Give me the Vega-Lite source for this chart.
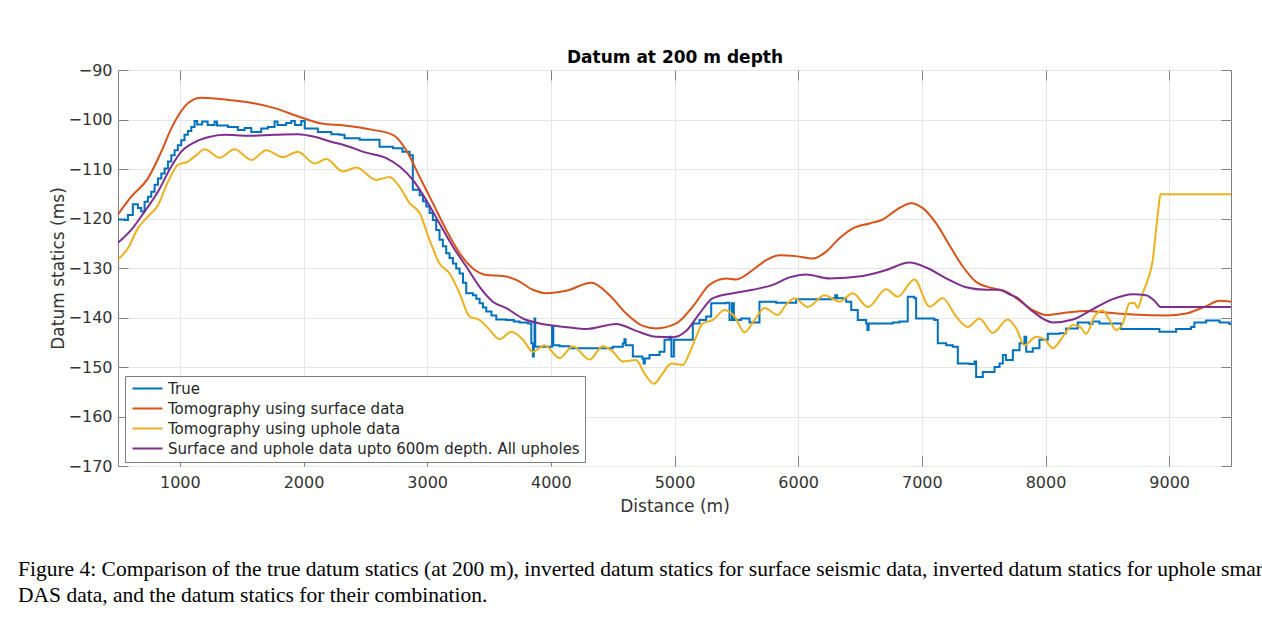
{
  "$schema": "https://vega.github.io/schema/vega-lite/v6.json",
  "width": 1113,
  "height": 396,
  "autosize": {"type": "none"},
  "padding": {"left": 118, "top": 70, "right": 31, "bottom": 171},
  "background": "white",
  "title": {
    "text": ["Figure 4: Comparison of the true datum statics (at 200 m), inverted datum statics for surface seismic data, inverted datum statics for uphole smar", "DAS data, and the datum statics for their combination."],
    "orient": "bottom",
    "anchor": "start",
    "frame": "group",
    "dx": -100,
    "offset": 45,
    "font": "Liberation Serif",
    "fontSize": 21.5,
    "fontWeight": "normal",
    "color": "black",
    "lineHeight": 26
  },
  "config": {
    "font": "DejaVu Sans",
    "view": {"stroke": "#7f7f7f", "strokeWidth": 1}
  },
  "datasets": {
    "truth": [
      {"series": "True", "d": 500, "v": -120.2}, {"series": "True", "d": 553, "v": -120.3}, {"series": "True", "d": 580, "v": -119.3}, {"series": "True", "d": 620, "v": -117.1}, {"series": "True", "d": 661, "v": -117.9}, {"series": "True", "d": 688, "v": -118.6}, {"series": "True", "d": 715, "v": -116.6}, {"series": "True", "d": 742, "v": -115.6}, {"series": "True", "d": 769, "v": -114.6}, {"series": "True", "d": 796, "v": -113.2}, {"series": "True", "d": 823, "v": -111.9}, {"series": "True", "d": 850, "v": -110.9}, {"series": "True", "d": 877, "v": -109.9}, {"series": "True", "d": 904, "v": -108.5}, {"series": "True", "d": 931, "v": -107.2}, {"series": "True", "d": 958, "v": -106.2}, {"series": "True", "d": 984, "v": -105.2}, {"series": "True", "d": 1011, "v": -104.2}, {"series": "True", "d": 1038, "v": -103.1}, {"series": "True", "d": 1065, "v": -102.3}, {"series": "True", "d": 1093, "v": -101.5}, {"series": "True", "d": 1119, "v": -100.3}, {"series": "True", "d": 1140, "v": -101.0}, {"series": "True", "d": 1180, "v": -100.4}, {"series": "True", "d": 1225, "v": -101.1}, {"series": "True", "d": 1281, "v": -100.4}, {"series": "True", "d": 1300, "v": -101.2}, {"series": "True", "d": 1389, "v": -101.5}, {"series": "True", "d": 1469, "v": -102.1}, {"series": "True", "d": 1524, "v": -101.7}, {"series": "True", "d": 1578, "v": -102.5}, {"series": "True", "d": 1658, "v": -101.8}, {"series": "True", "d": 1712, "v": -101.5}, {"series": "True", "d": 1766, "v": -100.4}, {"series": "True", "d": 1790, "v": -101.1}, {"series": "True", "d": 1860, "v": -100.7}, {"series": "True", "d": 1901, "v": -100.3}, {"series": "True", "d": 1930, "v": -101.1}, {"series": "True", "d": 1982, "v": -100.3}, {"series": "True", "d": 2010, "v": -101.8}, {"series": "True", "d": 2116, "v": -102.5}, {"series": "True", "d": 2225, "v": -103.0}, {"series": "True", "d": 2292, "v": -103.1}, {"series": "True", "d": 2332, "v": -103.8}, {"series": "True", "d": 2454, "v": -104.1}, {"series": "True", "d": 2615, "v": -105.5}, {"series": "True", "d": 2723, "v": -105.8}, {"series": "True", "d": 2800, "v": -106.5}, {"series": "True", "d": 2858, "v": -107.2}, {"series": "True", "d": 2884, "v": -114.2}, {"series": "True", "d": 2939, "v": -115.3}, {"series": "True", "d": 2966, "v": -116.5}, {"series": "True", "d": 2993, "v": -117.6}, {"series": "True", "d": 3020, "v": -118.9}, {"series": "True", "d": 3046, "v": -120.3}, {"series": "True", "d": 3073, "v": -122.3}, {"series": "True", "d": 3100, "v": -124.3}, {"series": "True", "d": 3127, "v": -125.6}, {"series": "True", "d": 3154, "v": -127.0}, {"series": "True", "d": 3181, "v": -128.0}, {"series": "True", "d": 3208, "v": -129.1}, {"series": "True", "d": 3235, "v": -130.1}, {"series": "True", "d": 3262, "v": -131.1}, {"series": "True", "d": 3290, "v": -133.0}, {"series": "True", "d": 3316, "v": -135.1}, {"series": "True", "d": 3370, "v": -135.5}, {"series": "True", "d": 3397, "v": -136.2}, {"series": "True", "d": 3424, "v": -137.1}, {"series": "True", "d": 3451, "v": -138.0}, {"series": "True", "d": 3478, "v": -138.8}, {"series": "True", "d": 3520, "v": -139.6}, {"series": "True", "d": 3559, "v": -140.4}, {"series": "True", "d": 3639, "v": -140.5}, {"series": "True", "d": 3700, "v": -140.8}, {"series": "True", "d": 3747, "v": -141.0}, {"series": "True", "d": 3814, "v": -141.2}, {"series": "True", "d": 3842, "v": -145.2}, {"series": "True", "d": 3855, "v": -147.9}, {"series": "True", "d": 3862, "v": -145.5}, {"series": "True", "d": 3868, "v": -140.2}, {"series": "True", "d": 3874, "v": -145.9}, {"series": "True", "d": 4003, "v": -145.9}, {"series": "True", "d": 4010, "v": -141.9}, {"series": "True", "d": 4020, "v": -145.6}, {"series": "True", "d": 4071, "v": -145.8}, {"series": "True", "d": 4151, "v": -146.2}, {"series": "True", "d": 4501, "v": -145.9}, {"series": "True", "d": 4582, "v": -145.2}, {"series": "True", "d": 4595, "v": -144.4}, {"series": "True", "d": 4605, "v": -145.6}, {"series": "True", "d": 4663, "v": -147.9}, {"series": "True", "d": 4740, "v": -148.3}, {"series": "True", "d": 4750, "v": -149.3}, {"series": "True", "d": 4760, "v": -148.3}, {"series": "True", "d": 4798, "v": -147.6}, {"series": "True", "d": 4879, "v": -146.9}, {"series": "True", "d": 4919, "v": -144.5}, {"series": "True", "d": 4960, "v": -143.9}, {"series": "True", "d": 4975, "v": -147.9}, {"series": "True", "d": 4995, "v": -144.5}, {"series": "True", "d": 5148, "v": -141.2}, {"series": "True", "d": 5202, "v": -140.5}, {"series": "True", "d": 5256, "v": -139.8}, {"series": "True", "d": 5297, "v": -137.1}, {"series": "True", "d": 5418, "v": -137.0}, {"series": "True", "d": 5445, "v": -140.5}, {"series": "True", "d": 5465, "v": -137.1}, {"series": "True", "d": 5480, "v": -140.5}, {"series": "True", "d": 5539, "v": -140.2}, {"series": "True", "d": 5606, "v": -141.0}, {"series": "True", "d": 5687, "v": -136.8}, {"series": "True", "d": 5822, "v": -137.0}, {"series": "True", "d": 5984, "v": -136.3}, {"series": "True", "d": 6280, "v": -136.1}, {"series": "True", "d": 6300, "v": -135.5}, {"series": "True", "d": 6315, "v": -136.1}, {"series": "True", "d": 6388, "v": -136.8}, {"series": "True", "d": 6429, "v": -138.5}, {"series": "True", "d": 6482, "v": -140.5}, {"series": "True", "d": 6550, "v": -141.2}, {"series": "True", "d": 6560, "v": -142.5}, {"series": "True", "d": 6570, "v": -141.2}, {"series": "True", "d": 6765, "v": -141.0}, {"series": "True", "d": 6819, "v": -140.8}, {"series": "True", "d": 6886, "v": -135.8}, {"series": "True", "d": 6940, "v": -136.1}, {"series": "True", "d": 6954, "v": -140.2}, {"series": "True", "d": 7102, "v": -140.5}, {"series": "True", "d": 7129, "v": -145.2}, {"series": "True", "d": 7197, "v": -145.6}, {"series": "True", "d": 7250, "v": -145.9}, {"series": "True", "d": 7291, "v": -149.3}, {"series": "True", "d": 7385, "v": -149.4}, {"series": "True", "d": 7426, "v": -148.9}, {"series": "True", "d": 7439, "v": -152.0}, {"series": "True", "d": 7493, "v": -151.0}, {"series": "True", "d": 7588, "v": -150.0}, {"series": "True", "d": 7628, "v": -149.3}, {"series": "True", "d": 7655, "v": -147.6}, {"series": "True", "d": 7680, "v": -148.6}, {"series": "True", "d": 7736, "v": -146.6}, {"series": "True", "d": 7790, "v": -145.2}, {"series": "True", "d": 7830, "v": -143.9}, {"series": "True", "d": 7844, "v": -146.9}, {"series": "True", "d": 7897, "v": -146.2}, {"series": "True", "d": 7951, "v": -144.5}, {"series": "True", "d": 8019, "v": -143.3}, {"series": "True", "d": 8113, "v": -143.2}, {"series": "True", "d": 8167, "v": -142.2}, {"series": "True", "d": 8261, "v": -141.0}, {"series": "True", "d": 8355, "v": -141.3}, {"series": "True", "d": 8380, "v": -140.8}, {"series": "True", "d": 8436, "v": -141.2}, {"series": "True", "d": 8611, "v": -142.3}, {"series": "True", "d": 8921, "v": -142.9}, {"series": "True", "d": 9056, "v": -142.3}, {"series": "True", "d": 9177, "v": -141.9}, {"series": "True", "d": 9204, "v": -141.0}, {"series": "True", "d": 9299, "v": -140.6}, {"series": "True", "d": 9407, "v": -141.0}, {"series": "True", "d": 9488, "v": -141.3}, {"series": "True", "d": 9500, "v": -141.3}
    ],
    "models": [
      {"series": "Tomography using surface data", "d": 500, "v": -119.2}, {"series": "Tomography using surface data", "d": 607, "v": -115.6}, {"series": "Tomography using surface data", "d": 742, "v": -111.9}, {"series": "Tomography using surface data", "d": 850, "v": -106.5}, {"series": "Tomography using surface data", "d": 931, "v": -101.8}, {"series": "Tomography using surface data", "d": 998, "v": -98.8}, {"series": "Tomography using surface data", "d": 1065, "v": -96.7}, {"series": "Tomography using surface data", "d": 1173, "v": -95.6}, {"series": "Tomography using surface data", "d": 1416, "v": -96.1}, {"series": "Tomography using surface data", "d": 1550, "v": -96.5}, {"series": "Tomography using surface data", "d": 1766, "v": -97.7}, {"series": "Tomography using surface data", "d": 1982, "v": -99.6}, {"series": "Tomography using surface data", "d": 2144, "v": -100.8}, {"series": "Tomography using surface data", "d": 2332, "v": -101.2}, {"series": "Tomography using surface data", "d": 2561, "v": -102.1}, {"series": "Tomography using surface data", "d": 2723, "v": -103.1}, {"series": "Tomography using surface data", "d": 2831, "v": -106.2}, {"series": "Tomography using surface data", "d": 2939, "v": -111.6}, {"series": "Tomography using surface data", "d": 3046, "v": -116.9}, {"series": "Tomography using surface data", "d": 3154, "v": -122.3}, {"series": "Tomography using surface data", "d": 3262, "v": -127.0}, {"series": "Tomography using surface data", "d": 3370, "v": -130.1}, {"series": "Tomography using surface data", "d": 3478, "v": -131.4}, {"series": "Tomography using surface data", "d": 3612, "v": -131.6}, {"series": "Tomography using surface data", "d": 3720, "v": -132.4}, {"series": "Tomography using surface data", "d": 3855, "v": -134.4}, {"series": "Tomography using surface data", "d": 3963, "v": -135.1}, {"series": "Tomography using surface data", "d": 4125, "v": -134.6}, {"series": "Tomography using surface data", "d": 4327, "v": -133.0}, {"series": "Tomography using surface data", "d": 4475, "v": -135.5}, {"series": "Tomography using surface data", "d": 4610, "v": -139.2}, {"series": "Tomography using surface data", "d": 4744, "v": -141.7}, {"series": "Tomography using surface data", "d": 4852, "v": -142.2}, {"series": "Tomography using surface data", "d": 5014, "v": -141.2}, {"series": "Tomography using surface data", "d": 5148, "v": -137.8}, {"series": "Tomography using surface data", "d": 5283, "v": -133.4}, {"series": "Tomography using surface data", "d": 5418, "v": -132.1}, {"series": "Tomography using surface data", "d": 5499, "v": -132.3}, {"series": "Tomography using surface data", "d": 5633, "v": -130.4}, {"series": "Tomography using surface data", "d": 5741, "v": -128.4}, {"series": "Tomography using surface data", "d": 5849, "v": -127.4}, {"series": "Tomography using surface data", "d": 5984, "v": -127.6}, {"series": "Tomography using surface data", "d": 6118, "v": -128.1}, {"series": "Tomography using surface data", "d": 6226, "v": -126.7}, {"series": "Tomography using surface data", "d": 6334, "v": -124.0}, {"series": "Tomography using surface data", "d": 6442, "v": -122.0}, {"series": "Tomography using surface data", "d": 6577, "v": -121.0}, {"series": "Tomography using surface data", "d": 6684, "v": -120.2}, {"series": "Tomography using surface data", "d": 6792, "v": -118.3}, {"series": "Tomography using surface data", "d": 6914, "v": -116.9}, {"series": "Tomography using surface data", "d": 7008, "v": -117.9}, {"series": "Tomography using surface data", "d": 7116, "v": -121.0}, {"series": "Tomography using surface data", "d": 7223, "v": -125.4}, {"series": "Tomography using surface data", "d": 7331, "v": -129.7}, {"series": "Tomography using surface data", "d": 7439, "v": -132.8}, {"series": "Tomography using surface data", "d": 7574, "v": -134.1}, {"series": "Tomography using surface data", "d": 7680, "v": -134.8}, {"series": "Tomography using surface data", "d": 7763, "v": -136.1}, {"series": "Tomography using surface data", "d": 7897, "v": -138.5}, {"series": "Tomography using surface data", "d": 8005, "v": -139.5}, {"series": "Tomography using surface data", "d": 8167, "v": -139.0}, {"series": "Tomography using surface data", "d": 8329, "v": -138.7}, {"series": "Tomography using surface data", "d": 8490, "v": -139.0}, {"series": "Tomography using surface data", "d": 8706, "v": -139.4}, {"series": "Tomography using surface data", "d": 8976, "v": -139.6}, {"series": "Tomography using surface data", "d": 9137, "v": -139.2}, {"series": "Tomography using surface data", "d": 9299, "v": -137.7}, {"series": "Tomography using surface data", "d": 9407, "v": -136.6}, {"series": "Tomography using surface data", "d": 9500, "v": -136.8},
      {"series": "Tomography using uphole data", "d": 500, "v": -128.3}, {"series": "Tomography using uphole data", "d": 580, "v": -126.0}, {"series": "Tomography using uphole data", "d": 661, "v": -122.0}, {"series": "Tomography using uphole data", "d": 742, "v": -119.6}, {"series": "Tomography using uphole data", "d": 823, "v": -117.3}, {"series": "Tomography using uphole data", "d": 904, "v": -112.6}, {"series": "Tomography using uphole data", "d": 984, "v": -109.2}, {"series": "Tomography using uphole data", "d": 1065, "v": -108.5}, {"series": "Tomography using uphole data", "d": 1133, "v": -107.2}, {"series": "Tomography using uphole data", "d": 1200, "v": -106.0}, {"series": "Tomography using uphole data", "d": 1322, "v": -107.7}, {"series": "Tomography using uphole data", "d": 1443, "v": -106.0}, {"series": "Tomography using uphole data", "d": 1578, "v": -108.2}, {"series": "Tomography using uphole data", "d": 1699, "v": -106.2}, {"series": "Tomography using uphole data", "d": 1833, "v": -107.6}, {"series": "Tomography using uphole data", "d": 1955, "v": -106.5}, {"series": "Tomography using uphole data", "d": 2090, "v": -108.9}, {"series": "Tomography using uphole data", "d": 2184, "v": -108.0}, {"series": "Tomography using uphole data", "d": 2318, "v": -110.5}, {"series": "Tomography using uphole data", "d": 2427, "v": -109.7}, {"series": "Tomography using uphole data", "d": 2588, "v": -112.2}, {"series": "Tomography using uphole data", "d": 2696, "v": -111.6}, {"series": "Tomography using uphole data", "d": 2777, "v": -113.6}, {"series": "Tomography using uphole data", "d": 2858, "v": -116.9}, {"series": "Tomography using uphole data", "d": 2939, "v": -118.9}, {"series": "Tomography using uphole data", "d": 3019, "v": -124.3}, {"series": "Tomography using uphole data", "d": 3100, "v": -129.1}, {"series": "Tomography using uphole data", "d": 3181, "v": -131.1}, {"series": "Tomography using uphole data", "d": 3262, "v": -135.1}, {"series": "Tomography using uphole data", "d": 3343, "v": -139.8}, {"series": "Tomography using uphole data", "d": 3424, "v": -140.5}, {"series": "Tomography using uphole data", "d": 3505, "v": -142.5}, {"series": "Tomography using uphole data", "d": 3585, "v": -144.4}, {"series": "Tomography using uphole data", "d": 3680, "v": -142.9}, {"series": "Tomography using uphole data", "d": 3774, "v": -144.5}, {"series": "Tomography using uphole data", "d": 3855, "v": -146.9}, {"series": "Tomography using uphole data", "d": 3949, "v": -145.6}, {"series": "Tomography using uphole data", "d": 4071, "v": -148.2}, {"series": "Tomography using uphole data", "d": 4178, "v": -145.8}, {"series": "Tomography using uphole data", "d": 4313, "v": -148.5}, {"series": "Tomography using uphole data", "d": 4420, "v": -145.8}, {"series": "Tomography using uphole data", "d": 4501, "v": -146.9}, {"series": "Tomography using uphole data", "d": 4582, "v": -148.9}, {"series": "Tomography using uphole data", "d": 4690, "v": -148.6}, {"series": "Tomography using uphole data", "d": 4757, "v": -151.3}, {"series": "Tomography using uphole data", "d": 4833, "v": -153.4}, {"series": "Tomography using uphole data", "d": 4905, "v": -151.3}, {"series": "Tomography using uphole data", "d": 4973, "v": -149.3}, {"series": "Tomography using uphole data", "d": 5067, "v": -149.6}, {"series": "Tomography using uphole data", "d": 5121, "v": -147.2}, {"series": "Tomography using uphole data", "d": 5175, "v": -143.9}, {"series": "Tomography using uphole data", "d": 5229, "v": -141.2}, {"series": "Tomography using uphole data", "d": 5310, "v": -140.5}, {"series": "Tomography using uphole data", "d": 5404, "v": -138.5}, {"series": "Tomography using uphole data", "d": 5485, "v": -139.8}, {"series": "Tomography using uphole data", "d": 5566, "v": -143.0}, {"series": "Tomography using uphole data", "d": 5647, "v": -140.5}, {"series": "Tomography using uphole data", "d": 5728, "v": -138.1}, {"series": "Tomography using uphole data", "d": 5835, "v": -139.5}, {"series": "Tomography using uphole data", "d": 5900, "v": -137.5}, {"series": "Tomography using uphole data", "d": 5971, "v": -136.1}, {"series": "Tomography using uphole data", "d": 6078, "v": -137.9}, {"series": "Tomography using uphole data", "d": 6213, "v": -135.5}, {"series": "Tomography using uphole data", "d": 6334, "v": -136.8}, {"series": "Tomography using uphole data", "d": 6442, "v": -135.1}, {"series": "Tomography using uphole data", "d": 6563, "v": -137.9}, {"series": "Tomography using uphole data", "d": 6712, "v": -134.3}, {"series": "Tomography using uphole data", "d": 6805, "v": -135.8}, {"series": "Tomography using uphole data", "d": 6940, "v": -132.3}, {"series": "Tomography using uphole data", "d": 7062, "v": -137.8}, {"series": "Tomography using uphole data", "d": 7169, "v": -136.1}, {"series": "Tomography using uphole data", "d": 7277, "v": -139.8}, {"series": "Tomography using uphole data", "d": 7371, "v": -141.9}, {"series": "Tomography using uphole data", "d": 7466, "v": -140.2}, {"series": "Tomography using uphole data", "d": 7574, "v": -143.1}, {"series": "Tomography using uphole data", "d": 7695, "v": -140.4}, {"series": "Tomography using uphole data", "d": 7763, "v": -142.2}, {"series": "Tomography using uphole data", "d": 7830, "v": -145.6}, {"series": "Tomography using uphole data", "d": 7925, "v": -143.9}, {"series": "Tomography using uphole data", "d": 7992, "v": -144.4}, {"series": "Tomography using uphole data", "d": 8059, "v": -146.2}, {"series": "Tomography using uphole data", "d": 8140, "v": -143.9}, {"series": "Tomography using uphole data", "d": 8221, "v": -141.5}, {"series": "Tomography using uphole data", "d": 8275, "v": -141.8}, {"series": "Tomography using uphole data", "d": 8329, "v": -143.3}, {"series": "Tomography using uphole data", "d": 8396, "v": -139.8}, {"series": "Tomography using uphole data", "d": 8463, "v": -138.6}, {"series": "Tomography using uphole data", "d": 8517, "v": -140.5}, {"series": "Tomography using uphole data", "d": 8571, "v": -142.5}, {"series": "Tomography using uphole data", "d": 8625, "v": -141.2}, {"series": "Tomography using uphole data", "d": 8679, "v": -137.1}, {"series": "Tomography using uphole data", "d": 8719, "v": -137.0}, {"series": "Tomography using uphole data", "d": 8746, "v": -138.1}, {"series": "Tomography using uphole data", "d": 8786, "v": -135.1}, {"series": "Tomography using uphole data", "d": 8827, "v": -132.4}, {"series": "Tomography using uphole data", "d": 8867, "v": -128.4}, {"series": "Tomography using uphole data", "d": 8894, "v": -122.3}, {"series": "Tomography using uphole data", "d": 8915, "v": -117.6}, {"series": "Tomography using uphole data", "d": 8929, "v": -115.1}, {"series": "Tomography using uphole data", "d": 9500, "v": -115.1},
      {"series": "Surface and uphole data upto 600m depth. All upholes", "d": 500, "v": -124.9}, {"series": "Surface and uphole data upto 600m depth. All upholes", "d": 607, "v": -122.3}, {"series": "Surface and uphole data upto 600m depth. All upholes", "d": 715, "v": -118.6}, {"series": "Surface and uphole data upto 600m depth. All upholes", "d": 823, "v": -114.6}, {"series": "Surface and uphole data upto 600m depth. All upholes", "d": 931, "v": -109.5}, {"series": "Surface and uphole data upto 600m depth. All upholes", "d": 1012, "v": -106.5}, {"series": "Surface and uphole data upto 600m depth. All upholes", "d": 1119, "v": -104.6}, {"series": "Surface and uphole data upto 600m depth. All upholes", "d": 1227, "v": -103.6}, {"series": "Surface and uphole data upto 600m depth. All upholes", "d": 1362, "v": -103.1}, {"series": "Surface and uphole data upto 600m depth. All upholes", "d": 1550, "v": -103.3}, {"series": "Surface and uphole data upto 600m depth. All upholes", "d": 1766, "v": -103.1}, {"series": "Surface and uphole data upto 600m depth. All upholes", "d": 1955, "v": -103.0}, {"series": "Surface and uphole data upto 600m depth. All upholes", "d": 2090, "v": -103.5}, {"series": "Surface and uphole data upto 600m depth. All upholes", "d": 2225, "v": -104.5}, {"series": "Surface and uphole data upto 600m depth. All upholes", "d": 2332, "v": -105.2}, {"series": "Surface and uphole data upto 600m depth. All upholes", "d": 2507, "v": -106.7}, {"series": "Surface and uphole data upto 600m depth. All upholes", "d": 2669, "v": -107.8}, {"series": "Surface and uphole data upto 600m depth. All upholes", "d": 2777, "v": -109.5}, {"series": "Surface and uphole data upto 600m depth. All upholes", "d": 2884, "v": -112.2}, {"series": "Surface and uphole data upto 600m depth. All upholes", "d": 2993, "v": -116.3}, {"series": "Surface and uphole data upto 600m depth. All upholes", "d": 3100, "v": -121.0}, {"series": "Surface and uphole data upto 600m depth. All upholes", "d": 3208, "v": -125.7}, {"series": "Surface and uphole data upto 600m depth. All upholes", "d": 3316, "v": -129.7}, {"series": "Surface and uphole data upto 600m depth. All upholes", "d": 3424, "v": -133.8}, {"series": "Surface and uphole data upto 600m depth. All upholes", "d": 3531, "v": -136.8}, {"series": "Surface and uphole data upto 600m depth. All upholes", "d": 3639, "v": -138.1}, {"series": "Surface and uphole data upto 600m depth. All upholes", "d": 3774, "v": -140.2}, {"series": "Surface and uphole data upto 600m depth. All upholes", "d": 3909, "v": -141.2}, {"series": "Surface and uphole data upto 600m depth. All upholes", "d": 4044, "v": -141.7}, {"series": "Surface and uphole data upto 600m depth. All upholes", "d": 4151, "v": -142.0}, {"series": "Surface and uphole data upto 600m depth. All upholes", "d": 4286, "v": -142.3}, {"series": "Surface and uphole data upto 600m depth. All upholes", "d": 4529, "v": -141.3}, {"series": "Surface and uphole data upto 600m depth. All upholes", "d": 4690, "v": -142.7}, {"series": "Surface and uphole data upto 600m depth. All upholes", "d": 4852, "v": -143.9}, {"series": "Surface and uphole data upto 600m depth. All upholes", "d": 4987, "v": -144.0}, {"series": "Surface and uphole data upto 600m depth. All upholes", "d": 5095, "v": -142.7}, {"series": "Surface and uphole data upto 600m depth. All upholes", "d": 5202, "v": -139.2}, {"series": "Surface and uphole data upto 600m depth. All upholes", "d": 5310, "v": -136.1}, {"series": "Surface and uphole data upto 600m depth. All upholes", "d": 5472, "v": -135.1}, {"series": "Surface and uphole data upto 600m depth. All upholes", "d": 5633, "v": -134.4}, {"series": "Surface and uphole data upto 600m depth. All upholes", "d": 5795, "v": -133.4}, {"series": "Surface and uphole data upto 600m depth. All upholes", "d": 5930, "v": -131.9}, {"series": "Surface and uphole data upto 600m depth. All upholes", "d": 6065, "v": -131.3}, {"series": "Surface and uphole data upto 600m depth. All upholes", "d": 6253, "v": -132.1}, {"series": "Surface and uphole data upto 600m depth. All upholes", "d": 6522, "v": -131.6}, {"series": "Surface and uphole data upto 600m depth. All upholes", "d": 6712, "v": -130.4}, {"series": "Surface and uphole data upto 600m depth. All upholes", "d": 6900, "v": -128.9}, {"series": "Surface and uphole data upto 600m depth. All upholes", "d": 7035, "v": -129.9}, {"series": "Surface and uphole data upto 600m depth. All upholes", "d": 7197, "v": -132.1}, {"series": "Surface and uphole data upto 600m depth. All upholes", "d": 7358, "v": -133.9}, {"series": "Surface and uphole data upto 600m depth. All upholes", "d": 7520, "v": -134.4}, {"series": "Surface and uphole data upto 600m depth. All upholes", "d": 7628, "v": -134.4}, {"series": "Surface and uphole data upto 600m depth. All upholes", "d": 7709, "v": -135.3}, {"series": "Surface and uphole data upto 600m depth. All upholes", "d": 7763, "v": -135.9}, {"series": "Surface and uphole data upto 600m depth. All upholes", "d": 7897, "v": -138.8}, {"series": "Surface and uphole data upto 600m depth. All upholes", "d": 8059, "v": -141.0}, {"series": "Surface and uphole data upto 600m depth. All upholes", "d": 8221, "v": -140.4}, {"series": "Surface and uphole data upto 600m depth. All upholes", "d": 8383, "v": -138.3}, {"series": "Surface and uphole data upto 600m depth. All upholes", "d": 8544, "v": -136.3}, {"series": "Surface and uphole data upto 600m depth. All upholes", "d": 8706, "v": -135.3}, {"series": "Surface and uphole data upto 600m depth. All upholes", "d": 8814, "v": -135.5}, {"series": "Surface and uphole data upto 600m depth. All upholes", "d": 8881, "v": -136.6}, {"series": "Surface and uphole data upto 600m depth. All upholes", "d": 8935, "v": -137.9}, {"series": "Surface and uphole data upto 600m depth. All upholes", "d": 9500, "v": -137.9}
    ]
  },
  "layer": [
    {
      "data": {"name": "truth"},
      "mark": {"type": "line", "interpolate": "step-after", "strokeWidth": 2},
      "encoding": {
        "x": {
          "field": "d", "type": "quantitative",
          "scale": {"domain": [500, 9500], "nice": false, "zero": false},
          "axis": {
            "orient": "bottom", "values": [1000, 2000, 3000, 4000, 5000, 6000, 7000, 8000, 9000], "format": "d",
            "title": "Distance (m)", "grid": true, "gridColor": "#e6e6e6", "domain": false,
            "tickSize": -10, "tickColor": "#7f7f7f", "labelPadding": 18,
            "labelFontSize": 16, "labelColor": "#333333", "labelFont": "DejaVu Sans",
            "titleFontSize": 17, "titleColor": "#333333", "titleFontWeight": "normal", "titleFont": "DejaVu Sans", "titlePadding": 8
          }
        },
        "y": {
          "field": "v", "type": "quantitative",
          "scale": {"domain": [-170, -90], "nice": false, "zero": false},
          "axis": {
            "orient": "left", "values": [-170, -160, -150, -140, -130, -120, -110, -100, -90],
            "title": "Datum statics (ms)", "grid": true, "gridColor": "#e6e6e6", "domain": false,
            "tickSize": -10, "tickColor": "#7f7f7f", "labelPadding": 16,
            "labelFontSize": 16, "labelColor": "#333333", "labelFont": "DejaVu Sans",
            "titleFontSize": 17, "titleColor": "#333333", "titleFontWeight": "normal", "titleFont": "DejaVu Sans", "titlePadding": 1
          }
        },
        "color": {
          "field": "series", "type": "nominal",
          "scale": {
            "domain": ["True", "Tomography using surface data", "Tomography using uphole data", "Surface and uphole data upto 600m depth. All upholes"],
            "range": ["#0072BD", "#D95319", "#EDB120", "#7E2F8E"]
          },
          "legend": {
            "orient": "none", "legendX": 7, "legendY": 306, "title": null,
            "symbolType": "M-1,0H5", "symbolSize": 100, "symbolStrokeWidth": 2, "symbolFillColor": "transparent",
            "labelFontSize": 15, "labelColor": "#262626", "labelFont": "DejaVu Sans", "labelOffset": 23, "labelLimit": 0,
            "strokeColor": "#7f7f7f", "fillColor": "white", "padding": 5, "rowPadding": 4, "cornerRadius": 0
          }
        }
      }
    },
    {
      "data": {"name": "models"},
      "mark": {"type": "line", "interpolate": "monotone", "strokeWidth": 2},
      "encoding": {
        "x": {
          "field": "d", "type": "quantitative",
          "axis": {
            "orient": "top", "values": [1000, 2000, 3000, 4000, 5000, 6000, 7000, 8000, 9000],
            "labels": false, "grid": false, "domain": false, "tickSize": -10, "tickColor": "#7f7f7f",
            "title": "Datum at 200 m depth", "titleFontSize": 17, "titleFontWeight": "bold", "titleColor": "#000000", "titleFont": "DejaVu Sans", "titlePadding": 3
          }
        },
        "y": {
          "field": "v", "type": "quantitative",
          "axis": {
            "orient": "right", "values": [-170, -160, -150, -140, -130, -120, -110, -100, -90],
            "labels": false, "grid": false, "domain": false, "tickSize": -10, "tickColor": "#7f7f7f", "title": null
          }
        },
        "color": {"field": "series", "type": "nominal"}
      }
    }
  ]
}
